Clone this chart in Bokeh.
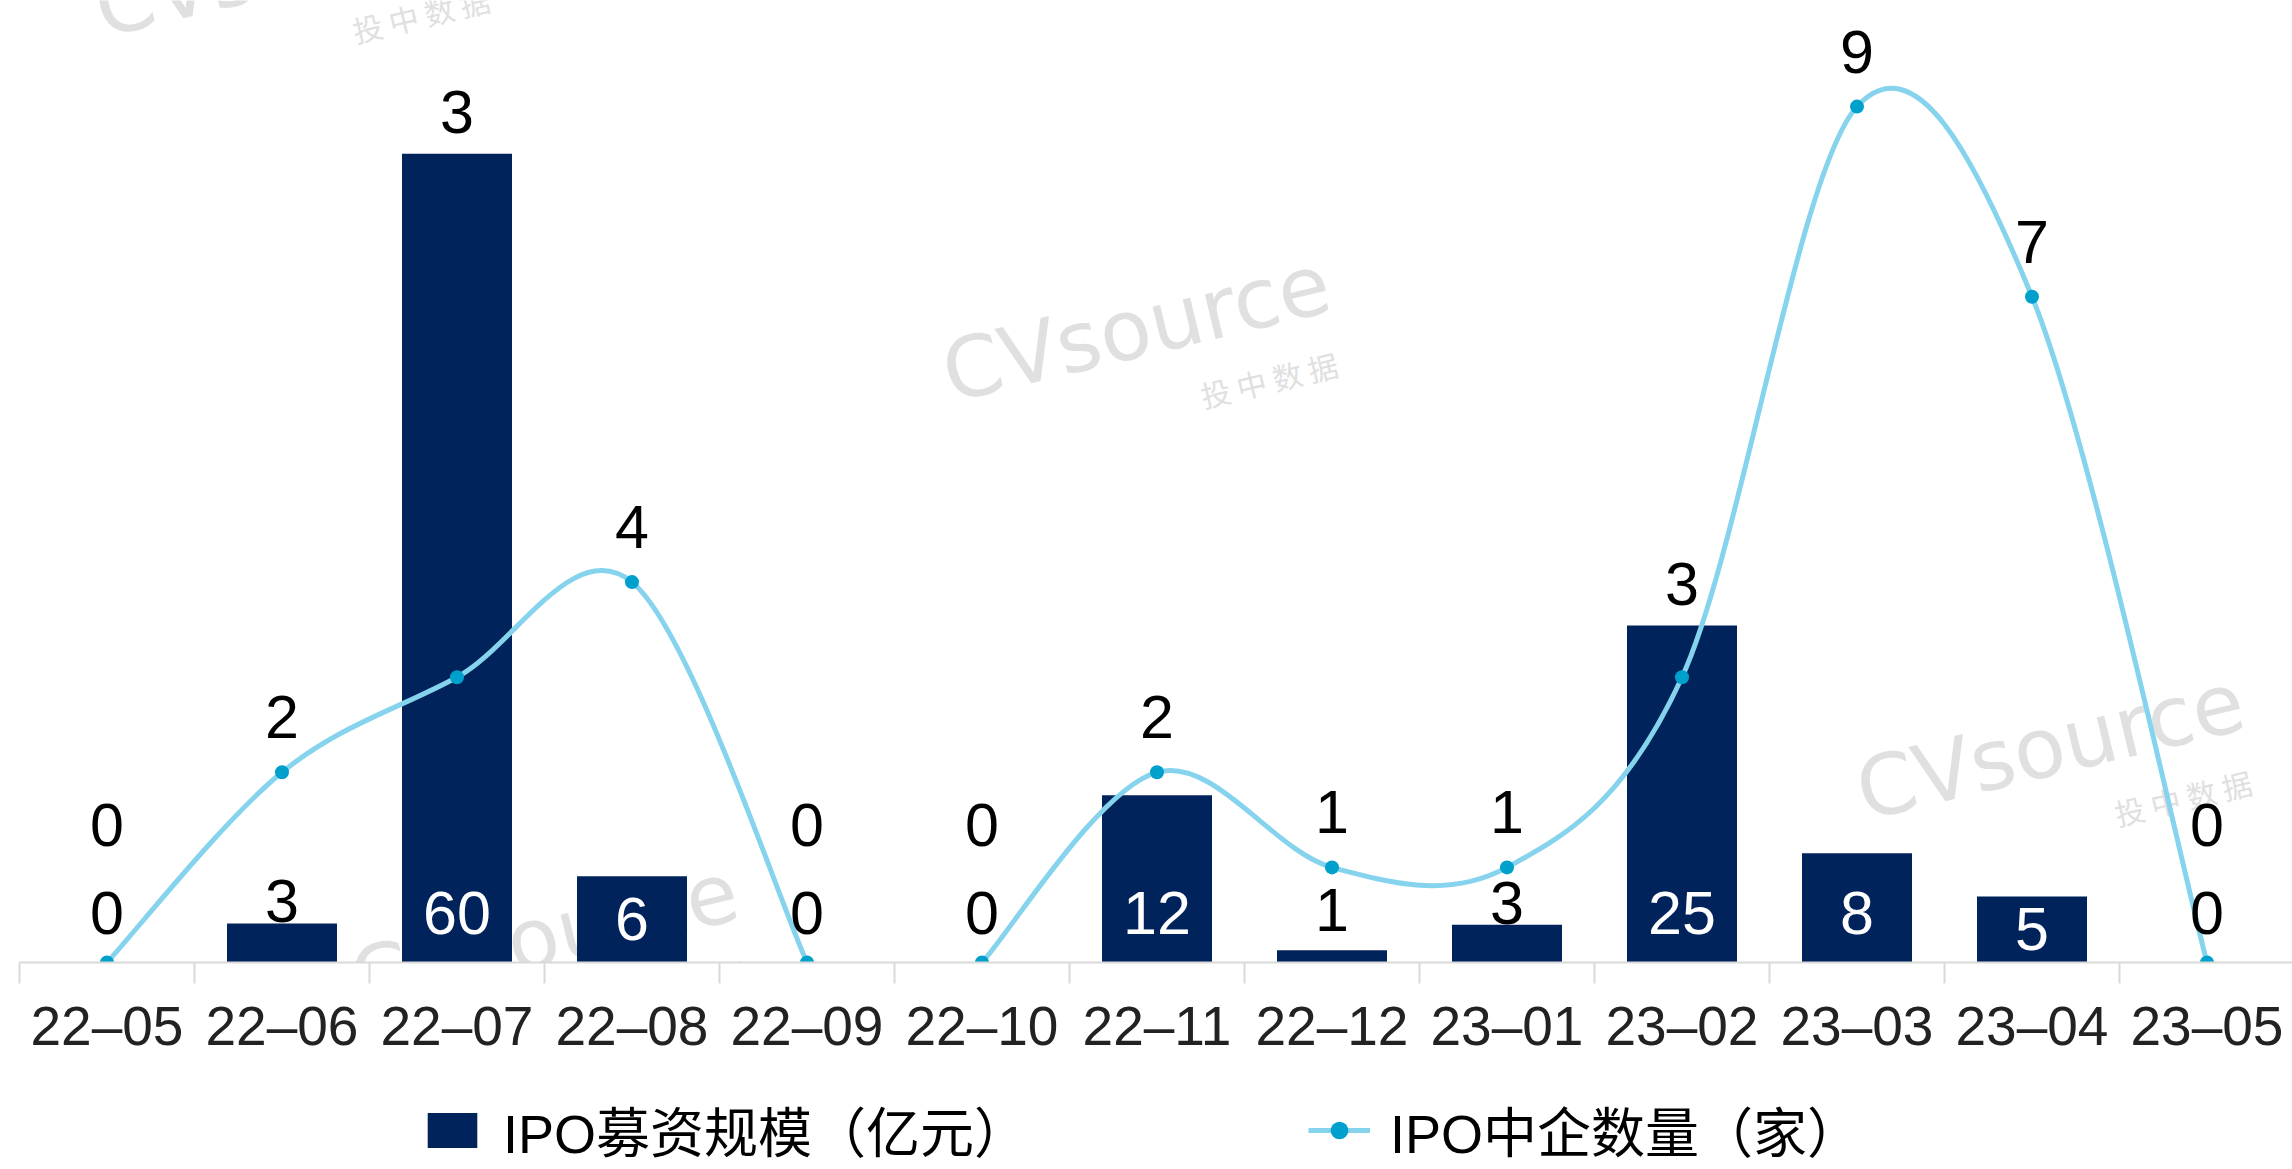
from bokeh.plotting import figure
from bokeh.layouts import column
from bokeh.models import (Range1d, LinearAxis, FixedTicker, ColumnDataSource,
                          Legend, LegendItem, Label)
from bokeh.embed import file_html
from bokeh.resources import INLINE
from bokeh.core.properties import value
import math

# ---------------- data ----------------
months = ["22–05", "22–06", "22–07", "22–08", "22–09", "22–10", "22–11",
          "22–12", "23–01", "23–02", "23–03", "23–04", "23–05"]
ipo_amount = [0, 2.9, 60, 6.4, 0, 0, 12.4, 0.9, 2.8, 25, 8.1, 4.9, 0]   # 亿元
ipo_count = [0, 2, 3, 4, 0, 0, 2, 1, 1, 3, 9, 7, 0]                    # 家
line_segments = [(0, 4), (5, 12)]   # the line is broken between 22-09 and 22-10
amount_name = "IPO募资规模（亿元）"
count_name = "IPO中企数量（家）"

# ---------------- geometry / style ----------------
W = 2292
ML = 19
frame_h = 962
MB = 110
H_MAIN = frame_h + MB
H_LEG = 1169 - H_MAIN
frame_w = W - ML
cat_px = 175.0       # pixels per category
amt_px = 13.48       # pixels per 亿元
cnt_px = 95.1        # pixels per company
BAR = "#01235C"
LINE = "#85D3EC"
DOT = "#00A0CC"
NUM_FONT = "Liberation Sans"
LAB_FS = 61
WM = "#e0e0e0"

x = list(range(len(months)))

p = figure(width=W, height=H_MAIN, output_backend="svg", toolbar_location=None,
           x_range=Range1d(-0.5, -0.5 + frame_w / cat_px),
           y_range=Range1d(0, frame_h / amt_px),
           min_border_left=ML, min_border_right=0, min_border_top=0,
           min_border_bottom=MB, x_axis_type=None, y_axis_location=None)
p.extra_y_ranges = {"cnt": Range1d(0, frame_h / cnt_px)}
p.outline_line_color = None
p.xgrid.visible = False
p.ygrid.visible = False
p.background_fill_color = "white"
p.border_fill_color = "white"


def to_data(sx, sy):
    """page pixel -> data coords (primary axis)"""
    return -0.5 + (sx - ML) / cat_px, (frame_h - sy) / amt_px


# ---------------- watermarks ----------------
ang = math.radians(13.5)
wm_anchors = [(102, 35), (950, 400), (358, 1008), (1864, 818)]
for (ax, ay) in wm_anchors:
    wx, wy = to_data(ax - 27 * math.sin(ang), ay - 27 * math.cos(ang))
    p.add_layout(Label(x=wx, y=wy, text="CVsource", angle=13.5, angle_units="deg",
                       text_font="DejaVu Sans", text_font_size="84px",
                       text_color=WM, text_align="left",
                       text_baseline="alphabetic", level="underlay"))
    cx, cy = to_data(ax + 253 - 11 * math.sin(ang), ay + 6 - 11 * math.cos(ang))
    p.add_layout(Label(x=cx, y=cy, text="投 中 数 据", angle=13.5, angle_units="deg",
                       text_font="Noto Sans CJK SC", text_font_size="30px",
                       text_color=WM, text_align="left",
                       text_baseline="alphabetic", level="underlay"))

# ---------------- x axis ----------------
xaxis = LinearAxis(ticker=FixedTicker(ticks=x,
                                      minor_ticks=[i - 0.5 for i in range(len(months) + 1)]))
xaxis.major_label_overrides = {i: m for i, m in enumerate(months)}
xaxis.axis_line_color = "#d9d9d9"
xaxis.axis_line_width = 2
xaxis.major_tick_line_color = None
xaxis.major_tick_in = 0
xaxis.major_tick_out = 0
xaxis.minor_tick_line_color = "#d9d9d9"
xaxis.minor_tick_line_width = 2
xaxis.minor_tick_in = 0
xaxis.minor_tick_out = 21
xaxis.major_label_standoff = 11
xaxis.major_label_text_font = NUM_FONT
xaxis.major_label_text_font_size = "55px"
xaxis.major_label_text_color = "#222222"
p.add_layout(xaxis, "below")

# ---------------- bars ----------------
src = ColumnDataSource(dict(x=x, amt=ipo_amount, cnt=ipo_count))
bar_style = dict(fill_color=BAR, line_color=None)
p.vbar(x="x", top="amt", width=110 / cat_px, source=src, **bar_style)

# ---------------- smooth line (Bezier segments) ----------------
bz = dict(x0=[], y0=[], x1=[], y1=[], cx0=[], cy0=[], cx1=[], cy1=[])
for (i0, i1) in line_segments:
    for i in range(i0, i1):
        pv = max(i - 1, i0)
        nx = min(i + 2, i1)
        bz["x0"].append(x[i]); bz["y0"].append(ipo_count[i])
        bz["x1"].append(x[i + 1]); bz["y1"].append(ipo_count[i + 1])
        bz["cx0"].append(x[i] + (x[i + 1] - x[pv]) / 6)
        bz["cy0"].append(ipo_count[i] + (ipo_count[i + 1] - ipo_count[pv]) / 6)
        bz["cx1"].append(x[i + 1] - (x[nx] - x[i]) / 6)
        bz["cy1"].append(ipo_count[i + 1] - (ipo_count[nx] - ipo_count[i]) / 6)
line_style = dict(line_color=LINE, line_width=5)
dot_style = dict(size=14, fill_color=DOT, line_color=None)
p.bezier(source=ColumnDataSource(bz), x0="x0", y0="y0", x1="x1", y1="y1",
         cx0="cx0", cy0="cy0", cx1="cx1", cy1="cy1", y_range_name="cnt", **line_style)
p.scatter(x="x", y="cnt", source=src, y_range_name="cnt", **dot_style)

# ---------------- data labels ----------------
bar_txt, bar_off, bar_col = [], [], []
line_txt, line_off = [], []
for a, c in zip(ipo_amount, ipo_count):
    h = a * amt_px
    inside = a >= 4
    if inside:
        centre = min(50, h / 2)
    elif a > 0:
        centre = max(h + 22, 53)
    else:
        centre = 50
    bar_txt.append(f"{a:.0f}")
    bar_col.append("white" if inside else "black")
    bar_off.append(-centre)
    lc = max(c * cnt_px + 55, h + 42, centre + 88)
    line_txt.append(f"{c:d}")
    line_off.append(-lc)

lab_src = ColumnDataSource(dict(x=x, y=[0] * len(x), bt=bar_txt, bo=bar_off, bc=bar_col,
                                lt=line_txt, lo=line_off))
p.text(x="x", y="y", text="bt", y_offset="bo", text_color="bc", source=lab_src,
       text_align="center", text_baseline="alphabetic",
       text_font=value(NUM_FONT), text_font_size=f"{LAB_FS}px")
p.text(x="x", y="y", text="lt", y_offset="lo", text_color="black", source=lab_src,
       text_align="center", text_baseline="alphabetic",
       text_font=value(NUM_FONT), text_font_size=f"{LAB_FS}px")

# ---------------- legend strip (below the chart) ----------------
# The strip shows the same series; its ranges lie outside the data, so only the
# legend is visible there.
lg = figure(width=W, height=H_LEG, output_backend="svg", toolbar_location=None,
            x_range=Range1d(-100, -99), y_range=Range1d(-100, -99),
            min_border_left=0, min_border_right=0, min_border_top=0,
            min_border_bottom=0, x_axis_type=None, y_axis_location=None)
lg.outline_line_color = None
lg.xgrid.visible = False
lg.ygrid.visible = False
r_bar = lg.vbar(x="x", top="amt", width=110 / cat_px, source=src, **bar_style)
r_line = lg.line(x="x", y="cnt", source=src, **line_style)
r_dot = lg.scatter(x="x", y="cnt", source=src, **dot_style)

legend = Legend(items=[LegendItem(label=amount_name, renderers=[r_bar]),
                       LegendItem(label=count_name, renderers=[r_line, r_dot])],
                location=(402, 0), orientation="horizontal",
                border_line_color=None, background_fill_alpha=0,
                padding=0, margin=0, spacing=280, label_standoff=20,
                glyph_width=62, glyph_height=44,
                label_text_font="Liberation Sans, Noto Sans CJK SC",
                label_text_font_size="54px", label_text_color="black")
lg.add_layout(legend, "center")

layout = column(p, lg, spacing=0)
open("out.html", "w").write(file_html(layout, INLINE))
